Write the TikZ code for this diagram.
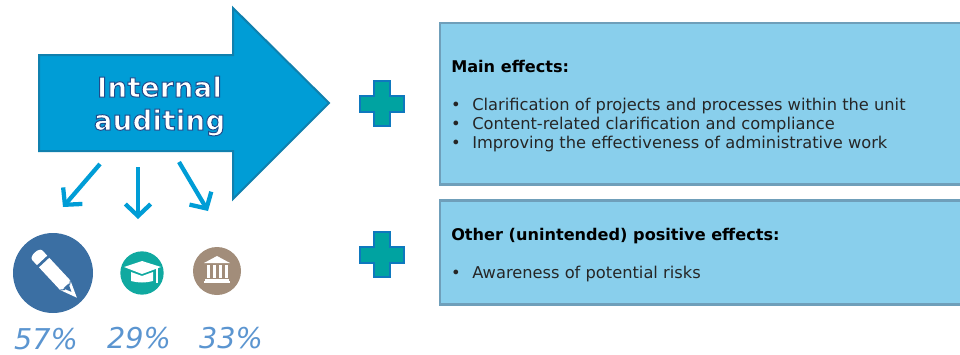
\documentclass[tikz,border=0pt]{standalone}
\usepackage{fontspec}
\setmainfont{DejaVu Sans}
\newfontfamily\titlefont[LetterSpace=1.5]{DejaVu Sans Bold}
\usetikzlibrary{arrows.meta}
\newcommand{\edgedtext}[1]{\special{pdf:code q 2 Tr 0.75 w 0.12 0.3 0.55 RG}#1\special{pdf:code 0 Tr Q}}
\definecolor{arrowblue}{HTML}{009DD6}
\definecolor{arrowedge}{HTML}{1080AE}
\definecolor{boxblue}{HTML}{89CFEC}
\definecolor{boxedge}{HTML}{6F9FBA}
\definecolor{plusteal}{HTML}{00A3A1}
\definecolor{plusedge}{HTML}{0E78BE}
\definecolor{penblue}{HTML}{3B6FA3}
\definecolor{capteal}{HTML}{10A9A0}
\definecolor{bankbrown}{HTML}{A28D7A}
\definecolor{pctblue}{HTML}{5B95D0}
\tikzset{
  x=0.75pt, y=-0.75pt,
  effectbox/.style={draw=boxedge, fill=boxblue, line width=2pt, inner sep=0pt},
  plusmark/.style={draw=plusedge, fill=plusteal, line width=2.2pt},
  downarrow/.style={draw=arrowblue, line width=3.2pt, -{Straight Barb[length=9pt,width=19pt,line width=3.2pt]}},
  titletext/.style={anchor=base, inner sep=0pt, text=white, font=\fontsize{20.5pt}{24pt}\titlefont},
  effecttext/.style={anchor=base west, inner sep=0pt, font=\fontsize{12.2pt}{14pt}\selectfont, text=black!85},
  effecthead/.style={effecttext, font=\fontsize{12.1pt}{14pt}\selectfont\bfseries, text=black},
  pct/.style={anchor=base, inner sep=0pt, text=pctblue, font=\fontsize{21.5pt}{24pt}\selectfont\itshape},
  icon/.style={circle, inner sep=0pt}
}
\begin{document}
\begin{tikzpicture}
\clip (0,0) rectangle (960,354);
\useasboundingbox (0,0) rectangle (960,354);
% big arrow
\draw[draw=arrowedge, fill=arrowblue, line width=1.5pt, line join=miter] (39,55) -- (233,55) -- (233,8) -- (329,103) -- (233,199) -- (233,151) -- (39,151) -- cycle;
\node (internal) at (159.5,97) [titletext] {\edgedtext{Internal}};
\node (auditing) at (159.5,130) [titletext] {\edgedtext{auditing}};
% small arrows
\coordinate (a1) at (100,164); \coordinate (a2) at (138,167); \coordinate (a3) at (179,162);
\node (pen) at (53,273) [icon, fill=penblue, minimum size=60pt] {};
\node (cap) at (142,273) [icon, fill=capteal, minimum size=32.5pt] {};
\node (bank) at (217,271) [icon, fill=bankbrown, minimum size=36pt] {};
\coordinate (b1) at (63,207); \coordinate (b2) at (138,219); \coordinate (b3) at (208,211);
\draw[downarrow] (a1) -- (b1); \draw[downarrow] (a2) -- (b2); \draw[downarrow] (a3) -- (b3);
% pencil
\begin{scope}[shift={(38,256)}, rotate=-47]
\fill[white] (6,-7) -- (-1,-7) .. controls (-6,-7) and (-6,7) .. (-1,7) -- (6,7) -- cycle;
\fill[white] (9,-7) -- (40,-7) -- (57,0) -- (40,7) -- (9,7) -- cycle;
\draw[penblue, line width=0.7pt] (40,-7) -- (43,-3) (40,7) -- (43,3);
\fill[penblue] (41,-3.5) -- (49,0) -- (41,3.5) -- cycle;
\end{scope}
% cap
\fill[white] (124,267) -- (142,261) -- (161,267) -- (142,274) -- cycle;
\fill[white] (131,272) -- (142,276) -- (153,272) -- (153,281) .. controls (146,283) and (138,283) .. (131,281) -- cycle;
\draw[white, line width=1pt] (157,268) -- (157,283);
% bank
\fill[white] (217,256) -- (230,263) -- (204,263) -- cycle;
\foreach \cx in {208,214,220,226} \fill[white] (\cx-1.5,265) rectangle (\cx+1.5,278);
\fill[white] (205,279) rectangle (229,281); \fill[white] (204,281) rectangle (230,283);
% percentages
\node (p1) at (46,349) [pct] {57\%};
\node (p2) at (139,348) [pct] {29\%};
\node (p3) at (231,348) [pct] {33\%};
% plus signs
\draw[plusmark] (374,81) -- (390,81) -- (390,96) -- (404,96) -- (404,112) -- (390,112) -- (390,126) -- (374,126) -- (374,112) -- (360,112) -- (360,96) -- (374,96) -- cycle;
\draw[plusmark] (374,232) -- (390,232) -- (390,247) -- (404,247) -- (404,263) -- (390,263) -- (390,277) -- (374,277) -- (374,263) -- (360,263) -- (360,247) -- (374,247) -- cycle;
% effect boxes
\node (mainbox) at (703,103.5) [effectbox, minimum width=394.5pt, minimum height=121pt] {};
\node (otherbox) at (703,252.5) [effectbox, minimum width=394.5pt, minimum height=78pt] {};
\node (mainhead) at (451,72) [effecthead] {Main effects:};
\node (m1) at (472,110) [effecttext] {Clarification of projects and processes within the unit};
\node (m2) at (472,129) [effecttext] {Content-related clarification and compliance};
\node (m3) at (472,148) [effecttext] {Improving the effectiveness of administrative work};
\node (otherhead) at (451,240) [effecthead] {Other (unintended) positive effects:};
\node (o1) at (472,278) [effecttext] {Awareness of potential risks};
\foreach \ty/\tn in {110/b4,129/b5,148/b6,278/b7} \node (\tn) at (456,\ty) [effecttext, anchor=base] {•};
\end{tikzpicture}
\end{document}
